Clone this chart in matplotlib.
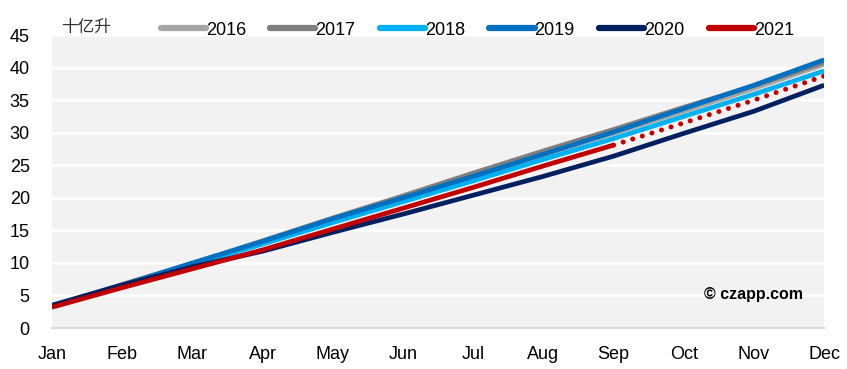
import matplotlib
matplotlib.use("Agg")
import matplotlib.pyplot as plt
from matplotlib.lines import Line2D

months = ["Jan", "Feb", "Mar", "Apr", "May", "Jun", "Jul", "Aug", "Sep", "Oct", "Nov", "Dec"]
y2016 = [3.3, 6.5, 9.8, 13.1, 16.5, 19.8, 23.2, 26.6, 29.9, 33.3, 36.8, 40.5]
y2017 = [3.4, 6.7, 9.9, 13.4, 16.9, 20.3, 23.8, 27.2, 30.5, 33.9, 37.2, 40.8]
y2018 = [3.3, 6.5, 9.7, 12.9, 16.2, 19.4, 22.6, 25.9, 29.1, 32.5, 35.9, 39.5]
y2019 = [3.4, 6.6, 10.0, 13.3, 16.8, 20.0, 23.3, 26.7, 30.1, 33.7, 37.3, 41.2]
y2020 = [3.5, 6.6, 9.4, 11.8, 14.7, 17.5, 20.4, 23.3, 26.4, 29.9, 33.3, 37.3]
y2021 = [3.2, 6.2, 9.1, 12.0, 15.2, 18.4, 21.6, 24.9, 28.1]
y2021_fc = [28.1, 31.5, 35.0, 38.7]
series_names = ["2016", "2017", "2018", "2019", "2020", "2021"]
yticks = [0, 5, 10, 15, 20, 25, 30, 35, 40, 45]

colors = {"2016": "#a6a6a6", "2017": "#7f7f7f", "2018": "#00b0f0",
          "2019": "#0070c0", "2020": "#002060", "2021": "#c00000"}

plt.rcParams['font.family'] = ['Liberation Sans', 'DejaVu Sans']

fig = plt.figure(figsize=(8.47, 3.69), dpi=100)
ax = fig.add_axes([0.0614, 0.111, 0.9116, 0.794])
ax.set_facecolor("#f2f2f2")

x = list(range(12))
lw = 3.4
data = {"2016": y2016, "2017": y2017, "2018": y2018, "2019": y2019, "2020": y2020}
for name in ["2016", "2017", "2018", "2019", "2020"]:
    ax.plot(x, data[name], color=colors[name], lw=lw, solid_capstyle="butt", zorder=3)
ax.plot(x[:len(y2021)], y2021, color=colors["2021"], lw=lw, solid_capstyle="butt", zorder=4)
ax.plot(x[len(y2021) - 1:], y2021_fc, color=colors["2021"], lw=3.6,
        linestyle=(0, (0.01, 2.0)), dash_capstyle="round", zorder=4)

ax.set_xlim(0, 11)
ax.set_ylim(0, 45)
ax.set_xticks(x)
ax.set_xticklabels(months)
ax.set_yticks(yticks)
ax.tick_params(axis="both", length=0, labelsize=13, colors="#000000")
ax.tick_params(axis="x", pad=13)
ax.tick_params(axis="y", pad=16)
ax.grid(axis="y", color="white", lw=1.8)
ax.set_axisbelow(True)
for s in ["top", "right", "left"]:
    ax.spines[s].set_visible(False)
ax.spines["bottom"].set_color("#d9d9d9")
ax.spines["bottom"].set_linewidth(1.5)

fig.text(0.072, 0.925, "十亿升", family=["Noto Sans CJK SC", "DejaVu Sans"],
         fontsize=12, color="#303030", va="center", ha="left")

handles = [Line2D([0], [0], color=colors[n], lw=4.5, solid_capstyle="round") for n in series_names]
fig.legend(handles, series_names, loc="center left", bbox_to_anchor=(0.181, 0.918),
           ncol=6, frameon=False, fontsize=13, handlelength=2.5, handletextpad=0.0,
           columnspacing=1.35, borderaxespad=0)

ax.text(10.0, 5.2, "© czapp.com", fontsize=11.5, fontweight="bold", ha="center", va="center")

fig.savefig("out.png", dpi=100)
